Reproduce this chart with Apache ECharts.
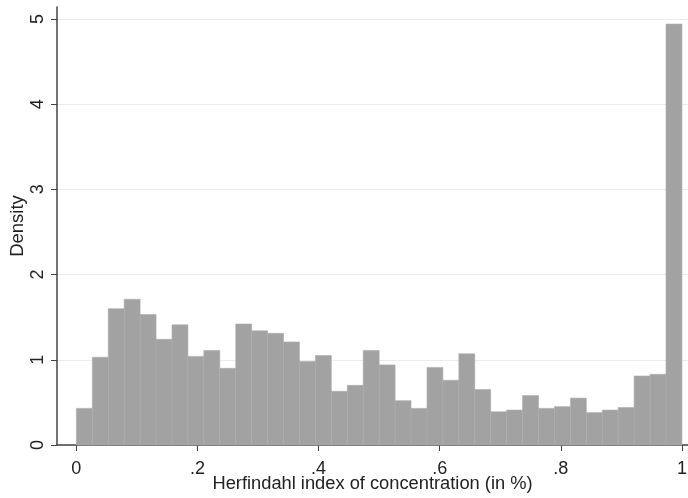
<!DOCTYPE html>
<html>
<head>
<meta charset="utf-8">
<script src="https://cdn.jsdelivr.net/npm/echarts@6/dist/echarts.min.js"></script>
<style>html,body{margin:0;padding:0;background:#fff}#c{width:688px;height:498px}</style>
</head>
<body>
<div id="c"></div>
<script>
const binStart = 0;
const binEnd = 1;
const densities = [0.43, 1.03, 1.60, 1.71, 1.53, 1.24, 1.41, 1.04, 1.11, 0.90,
  1.42, 1.34, 1.31, 1.21, 0.98, 1.05, 0.63, 0.70, 1.11, 0.94,
  0.52, 0.43, 0.91, 0.76, 1.07, 0.65, 0.39, 0.41, 0.58, 0.43,
  0.45, 0.55, 0.38, 0.41, 0.44, 0.81, 0.83, 4.94];
const xTickValues = [0, 0.2, 0.4, 0.6, 0.8, 1];
const xTickLabels = ['0', '.2', '.4', '.6', '.8', '1'];
const yTickValues = [0, 1, 2, 3, 4, 5];
const xTitle = 'Herfindahl index of concentration (in %)';
const yTitle = 'Density';

const nBins = densities.length;
const w = (binEnd - binStart) / nBins;
const histData = densities.map((d, i) => [binStart + i * w, binStart + (i + 1) * w, d]);

const chart = echarts.init(document.getElementById('c'), null, {renderer: 'canvas'});
const font = 'Liberation Sans, Arial, sans-serif';
chart.setOption({
  animation: false,
  backgroundColor: '#fff',
  grid: {left: 57, right: 0, top: 7, bottom: 53, containLabel: false, outerBoundsMode: 'none'},
  xAxis: {
    type: 'value', min: -0.032, max: 1.01,
    name: xTitle, nameLocation: 'middle', nameGap: 30, nameMoveOverlap: false,
    nameTextStyle: {fontFamily: font, fontSize: 18.3, color: '#222'},
    axisLine: {show: true, onZero: false, lineStyle: {color: '#444', width: 1.5}},
    axisTick: {show: true, length: 6, customValues: xTickValues, lineStyle: {color: '#444'}},
    axisLabel: {customValues: xTickValues, fontFamily: font, fontSize: 18, color: '#222', margin: 15,
      formatter: v => xTickLabels[xTickValues.findIndex(t => Math.abs(t - v) < 1e-9)] ?? ''},
    splitLine: {show: false}
  },
  yAxis: {
    type: 'value', min: 0, max: 5.14,
    name: yTitle, nameLocation: 'middle', nameGap: 30, nameRotate: 90, nameMoveOverlap: false,
    nameTextStyle: {fontFamily: font, fontSize: 18.5, color: '#222'},
    axisLine: {show: true, onZero: false, lineStyle: {color: '#444', width: 1.5}},
    axisTick: {show: true, length: 6, customValues: yTickValues, lineStyle: {color: '#444'}},
    axisLabel: {customValues: yTickValues, fontFamily: font, fontSize: 18, color: '#222', rotate: 90, margin: 10},
    splitLine: {show: true, lineStyle: {color: '#ececec', width: 1}}
  },
  series: [{
    type: 'custom',
    data: histData,
    encode: {x: [0, 1], y: 2},
    renderItem: function (params, api) {
      const p0 = api.coord([api.value(0), 0]);
      const p1 = api.coord([api.value(1), api.value(2)]);
      return {
        type: 'rect',
        shape: {x: p0[0], y: p1[1], width: p1[0] - p0[0], height: p0[1] - p1[1]},
        style: {fill: '#a2a2a2', stroke: '#acacac', lineWidth: 0.6}
      };
    }
  }]
});
</script>
</body>
</html>
